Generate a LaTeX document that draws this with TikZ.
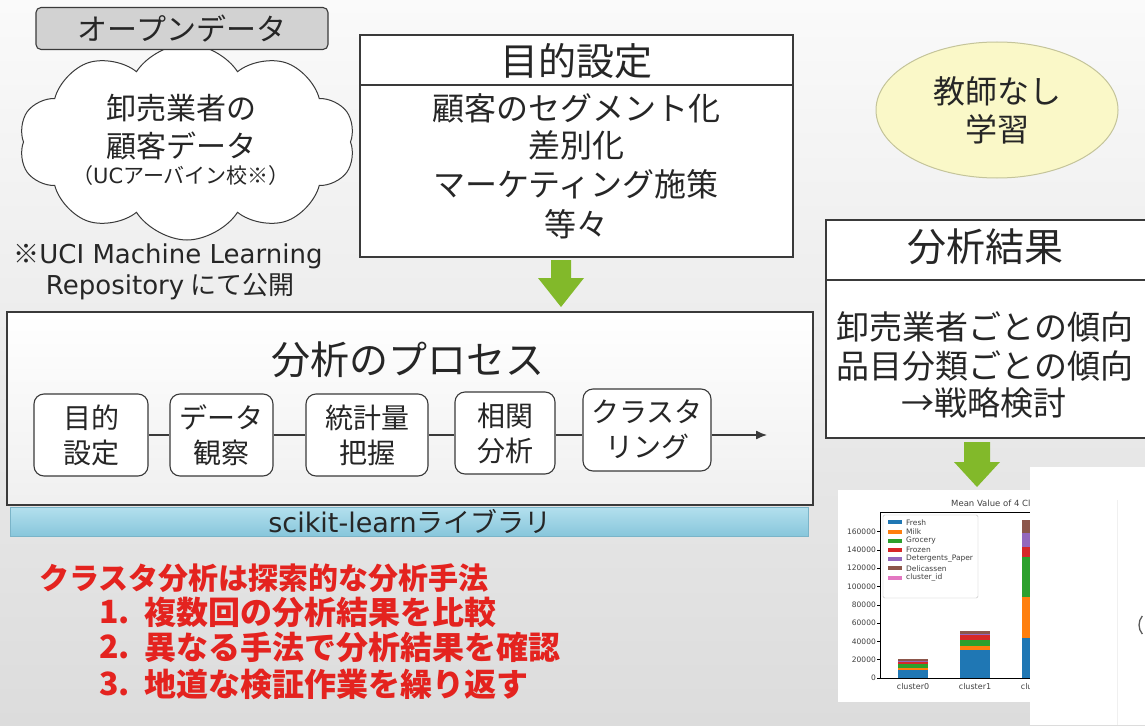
\documentclass[tikz,border=0pt]{standalone}
\usepackage{fontspec}
\setmainfont{Noto Sans CJK JP}
\newfontfamily\lat{DejaVu Sans}
\usetikzlibrary{shapes.symbols,shapes.geometric,arrows.meta}
\definecolor{bgtop}{HTML}{FAFAFA}
\definecolor{bgbot}{HTML}{DCDCDC}
\definecolor{bordc}{HTML}{3A3A3A}
\definecolor{textc}{HTML}{262626}
\definecolor{opengray}{HTML}{D2D2D2}
\definecolor{ellfill}{HTML}{FAF8C8}
\definecolor{elldraw}{HTML}{C4C49A}
\definecolor{agreen}{HTML}{82B92A}
\definecolor{skltop}{HTML}{B3E0EE}
\definecolor{sklbot}{HTML}{88C6DB}
\definecolor{skldraw}{HTML}{7AB4C8}
\definecolor{redtxt}{HTML}{E4231F}
\definecolor{cblue}{HTML}{1F77B4}
\definecolor{corange}{HTML}{FF7F0E}
\definecolor{cgreen}{HTML}{2CA02C}
\definecolor{cred}{HTML}{D62728}
\definecolor{cpurple}{HTML}{9467BD}
\definecolor{cbrown}{HTML}{8C564B}
\definecolor{cpink}{HTML}{E377C2}
\begin{document}
\begin{tikzpicture}[x=1pt,y=-1pt,
  box/.style={draw=bordc,line width=1.1pt,fill=white,inner sep=0pt},
  txt/.style={inner sep=0pt,text=textc},
  pnode/.style={draw=bordc,line width=1.1pt,fill=white,rounded corners=10pt,inner sep=0pt,
    align=center,font=\fontsize{28}{35}\selectfont,text=textc},
  conn/.style={draw=bordc,line width=1.3pt},
  redt/.style={inner sep=0pt,text=redtxt,font=\fontsize{30}{36}\selectfont\bfseries,anchor=west},
  redi/.style={inner sep=0pt,text=redtxt,font=\fontsize{32}{38}\selectfont\bfseries,anchor=west},
  ctext/.style={inner sep=0pt,font=\lat\fontsize{8}{9}\selectfont,text=black!75}
]
\useasboundingbox (0,0) rectangle (1145,725);
\shade[top color=bgtop,bottom color=bgbot] (0,0) rectangle (1145,725);

% ---------- open data cloud ----------
\node[cloud,cloud puffs=10,cloud puff arc=115,aspect=1.75,draw=bordc,line width=1pt,fill=white,
  minimum width=336pt,minimum height=196pt,inner sep=0pt] (cloud) at (187,142) {};
\node[draw=bordc,line width=1.1pt,fill=opengray,rounded corners=5pt,minimum width=292pt,
  minimum height=42pt,inner sep=0pt,text=textc,font=\fontsize{30}{36}\selectfont] (open) at (182,28.5) {オープンデータ};
\node[txt,font=\fontsize{30}{36}\selectfont] (c1) at (181,108) {卸売業者の};
\node[txt,font=\fontsize{30}{36}\selectfont] (c2) at (181,146) {顧客データ};
\node[txt,font=\fontsize{21}{24}\selectfont] (c3) at (181,176) {（{\lat UC}アーバイン校※）};
\node[txt,font=\fontsize{26}{30}\selectfont] (uci1) at (168,256) {※{\lat UCI Machine Learning}};
\node[txt,font=\fontsize{26}{30}\selectfont] (uci2) at (170,287) {{\lat Repository} にて公開};

% ---------- purpose box ----------
\node[box,minimum width=433pt,minimum height=222pt] (purp) at (576.5,146) {};
\draw[draw=bordc,line width=1.1pt] (purp.west |- 0,85) -- (purp.east |- 0,85);
\node[txt,font=\fontsize{38}{44}\selectfont] (purpt) at (576,61) {目的設定};
\node[txt,font=\fontsize{32}{38}\selectfont] (p1) at (576,108) {顧客のセグメント化};
\node[txt,font=\fontsize{32}{38}\selectfont] (p2) at (576,145) {差別化};
\node[txt,font=\fontsize{32}{38}\selectfont] (p3) at (576,184) {マーケティング施策};
\node[txt,font=\fontsize{32}{38}\selectfont] (p4) at (576,224) {等々};
\fill[agreen] (551,260) -- (571,260) -- (571,278) -- (584,278) -- (561,307) -- (538,278) -- (551,278) -- cycle;

% ---------- unsupervised ellipse ----------
\node[ellipse,draw=elldraw,line width=1pt,fill=ellfill,minimum width=242pt,minimum height=136pt,
  inner sep=0pt,align=center,text=textc,font=\fontsize{32}{38}\selectfont] (ell) at (997,110) {教師なし\\学習};

% ---------- result box ----------
\node[box,minimum width=324pt,minimum height=218pt] (res) at (988,329) {};
\draw[draw=bordc,line width=1.1pt] (res.west |- 0,280) -- (res.east |- 0,280);
\node[txt,font=\fontsize{39}{45}\selectfont] (rest) at (985,247) {分析結果};
\node[txt,font=\fontsize{33}{39}\selectfont] (r1) at (985,327) {卸売業者ごとの傾向};
\node[txt,font=\fontsize{33}{39}\selectfont] (r2) at (985,366) {品目分類ごとの傾向};
\node[txt,font=\fontsize{33}{39}\selectfont] (r3) at (984,403) {→戦略検討};
\fill[agreen] (964,442) -- (990,442) -- (990,462) -- (1000,462) -- (977,487) -- (954,462) -- (964,462) -- cycle;

% ---------- process box ----------
\node[draw=bordc,line width=1.1pt,top color=white,bottom color=white!94!black,inner sep=0pt,minimum width=806pt,minimum height=193pt] (proc) at (410,408.5) {};
\node[txt,font=\fontsize{39}{45}\selectfont] (proct) at (408,360) {分析のプロセス};
\node[pnode,minimum width=114pt,minimum height=82pt] (n1) at (91,435) {目的\\設定};
\node[pnode,minimum width=103pt,minimum height=82pt] (n2) at (221.5,435) {データ\\観察};
\node[pnode,minimum width=122pt,minimum height=82pt] (n3) at (367,435) {統計量\\把握};
\node[pnode,minimum width=100pt,minimum height=82pt] (n4) at (505,433) {相関\\分析};
\node[pnode,minimum width=128pt,minimum height=82pt] (n5) at (647,430) {クラスタ\\リング};
\coordinate (pend) at (767,435);
\draw[conn] (n1.east) -- (n2.west);
\draw[conn] (n2.east) -- (n3.west);
\draw[conn] (n3.east) -- (n3.east -| n4.west);
\draw[conn] (n4.east |- pend) -- (n5.west |- pend);
\draw[conn,-{Latex[length=11pt,width=9pt]}] (n5.east |- pend) -- (pend);

% scikit-learn bar
\node[draw=skldraw,line width=0.8pt,top color=skltop,bottom color=sklbot,inner sep=0pt,
  minimum width=798pt,minimum height=29pt] (skl) at (409,521.5) {};
\node[txt,font=\fontsize{27}{30}\selectfont] (sklt) at (410,521) {{\lat scikit-learn}ライブラリ};

% ---------- red notes ----------
\node[redt] (red0) at (39,578) {クラスタ分析は探索的な分析手法};
\node[redi] (rn1) at (99,612) {1.};
\node[redi] (ri1) at (144,612) {複数回の分析結果を比較};
\node[redi] (rn2) at (99,647) {2.};
\node[redi] (ri2) at (144,647) {異なる手法で分析結果を確認};
\node[redi] (rn3) at (99,684) {3.};
\node[redi] (ri3) at (144,684) {地道な検証作業を繰り返す};

% ---------- chart ----------
\fill[white] (838,490) rectangle (1030,702);
\begin{scope}
\clip (838,490) rectangle (1030,702);
% bars cluster0
\fill[cblue] (898,678) rectangle (928,670.2);
\fill[corange] (898,670.2) rectangle (928,667.5);
\fill[cgreen] (898,667.5) rectangle (928,664.3);
\fill[cred] (898,664.3) rectangle (928,662);
\fill[cpurple] (898,662) rectangle (928,661.3);
\fill[cbrown] (898,661.3) rectangle (928,659.3);
% cluster1
\fill[cblue] (960,678) rectangle (990,649.6);
\fill[corange] (960,649.6) rectangle (990,645.5);
\fill[cgreen] (960,645.5) rectangle (990,640);
\fill[cred] (960,640) rectangle (990,634.1);
\fill[cpurple] (960,634.1) rectangle (990,633.6);
\fill[cbrown] (960,633.6) rectangle (990,631.3);
% cluster2
\fill[cblue] (1022,678) rectangle (1052,638);
\fill[corange] (1022,638) rectangle (1052,597);
\fill[cgreen] (1022,597) rectangle (1052,557);
\fill[cred] (1022,557) rectangle (1052,547);
\fill[cpurple] (1022,547) rectangle (1052,533);
\fill[cbrown] (1022,533) rectangle (1052,520);
\draw[black,line width=0.6pt] (880,512) rectangle (1100,678);
\foreach \i/\lab in {0/0,1/20000,2/40000,3/60000,4/80000,5/100000,6/120000,7/140000,8/160000}{
  \draw[black,line width=0.5pt] (877,678-\i*18.3) -- (880,678-\i*18.3);
  \node[ctext,anchor=east,font=\lat\fontsize{7.5}{8}\selectfont] at (876,678-\i*18.3) {\lab};
}
\node[ctext,anchor=north] at (913,683) {cluster0};
\node[ctext,anchor=north] at (975,683) {cluster1};
\node[ctext,anchor=north] at (1037,683) {cluster2};
\node[ctext,anchor=west,font=\lat\fontsize{8.5}{9}\selectfont] at (951,503) {Mean Value of 4 Clusters};
% legend
\draw[black!25,fill=white,fill opacity=0.9,rounded corners=1.5pt] (883,515) rectangle (978,598);
\foreach \k/\c/\n in {0/cblue/Fresh,1/corange/Milk,2/cgreen/Grocery,3/cred/Frozen,4/cpurple/Detergents\_Paper,5/cbrown/Delicassen,6/cpink/cluster\_id}{
  \fill[\c] (888,520.3+\k*9.2) rectangle (902,524.3+\k*9.2);
  \node[ctext,anchor=west,font=\lat\fontsize{7.5}{8}\selectfont] at (906,522.3+\k*9.2) {\n};
}
\end{scope}

% ---------- overlay panel ----------
\fill[white] (1030,467) rectangle (1145,725);
\draw[black!6,line width=1pt] (1117,500) -- (1117,725);
\draw[black!65,line width=1.3pt] (1142.3,634) arc[start angle=140,end angle=220,radius=14];
\end{tikzpicture}
\end{document}
